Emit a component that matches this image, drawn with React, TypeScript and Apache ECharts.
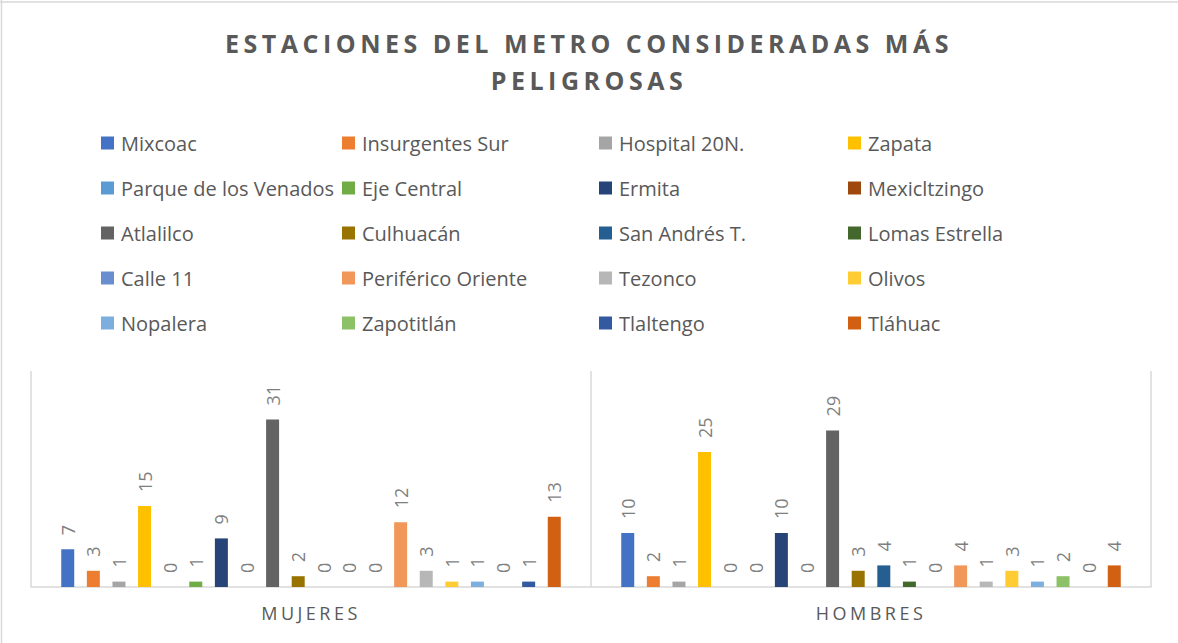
import React, { useEffect, useRef } from "react";
import * as echarts from "echarts";

const titleLines = ["ESTACIONES DEL METRO CONSIDERADAS MÁS", "PELIGROSAS"];
const categories = ["MUJERES", "HOMBRES"];
const stations = [
  "Mixcoac", "Insurgentes Sur", "Hospital 20N.", "Zapata",
  "Parque de los Venados", "Eje Central", "Ermita", "Mexicltzingo",
  "Atlalilco", "Culhuacán", "San Andrés T.", "Lomas Estrella",
  "Calle 11", "Periférico Oriente", "Tezonco", "Olivos",
  "Nopalera", "Zapotitlán", "Tlaltengo", "Tláhuac",
];
const mujeres = [7, 3, 1, 15, 0, 1, 9, 0, 31, 2, 0, 0, 0, 12, 3, 1, 1, 0, 1, 13];
const hombres = [10, 2, 1, 25, 0, 0, 10, 0, 29, 3, 4, 1, 0, 4, 1, 3, 1, 2, 0, 4];
const colors = [
  "#4472C4", "#ED7D31", "#A5A5A5", "#FFC000",
  "#5B9BD5", "#70AD47", "#264478", "#9E480E",
  "#636363", "#997300", "#255E91", "#43682B",
  "#698ED0", "#F1975A", "#B7B7B7", "#FFCD33",
  "#7CAFDD", "#8CC168", "#335AA1", "#D26012",
];

const FONT = "'Open Sans', 'DejaVu Sans', sans-serif";
const legendLefts = [101, 342, 599, 848];

export default function App() {
  const ref = useRef<HTMLDivElement>(null);

  useEffect(() => {
    document.body.style.margin = "0";
    const el = ref.current!;
    const chart = echarts.init(el, undefined, { renderer: "svg" });

    const legends = legendLefts.map((left, col) => ({
      orient: "vertical",
      left,
      top: 132,
      padding: 0,
      itemWidth: 13,
      itemHeight: 13,
      itemGap: 23,
      icon: "rect",
      data: stations.filter((_, i) => i % 4 === col),
      textStyle: { fontFamily: FONT, fontSize: 20, color: "#595959", lineHeight: 22, padding: [0, 0, 0, 2] },
    }));

    const series = stations.map((name, i) => ({
      type: "bar",
      name,
      data: [mujeres[i], hombres[i]],
      itemStyle: { color: colors[i] },
      barGap: "97%",
      barCategoryGap: "10.8%",
      label: {
        show: true,
        position: "top",
        rotate: 90,
        align: "left",
        verticalAlign: "middle",
        distance: 14,
        color: "#7f7f7f",
        fontSize: 18,
        fontFamily: FONT,
      },
    }));

    chart.setOption({
      animation: false,
      backgroundColor: "#ffffff",
      title: {
        text: titleLines.join("\n"),
        left: "center",
        top: 24,
        padding: 0,
        textStyle: {
          fontFamily: FONT,
          fontWeight: "bold",
          fontSize: 25,
          lineHeight: 37,
          color: "#595959",
        },
      },
      legend: legends,
      grid: { left: 31, right: 27, top: 371, bottom: 56 },
      xAxis: {
        type: "category",
        data: categories,
        axisLine: { lineStyle: { color: "#d9d9d9", width: 1.5 } },
        axisTick: { show: false },
        splitLine: { show: true, lineStyle: { color: "#d9d9d9", width: 1.5 } },
        axisLabel: { fontFamily: FONT, fontSize: 18, color: "#595959", margin: 17 },
      },
      yAxis: {
        type: "value",
        min: 0,
        max: 40,
        show: false,
      },
      graphic: [
        { type: "line", shape: { x1: 1.5, y1: 0, x2: 1.5, y2: 643 }, style: { stroke: "#d9d9d9", lineWidth: 1.5 } },
        { type: "line", shape: { x1: 0, y1: 2, x2: 1178, y2: 2 }, style: { stroke: "#d9d9d9", lineWidth: 1.5 } },
      ],
      series,
    });

    const applySpacing = () => {
      el.querySelectorAll("text").forEach((t) => {
        const s = (t.textContent || "").trim();
        if (titleLines.includes(s)) (t as SVGTextElement).style.letterSpacing = "4.5px";
        else if (categories.includes(s)) (t as SVGTextElement).style.letterSpacing = "3.5px";
      });
    };
    applySpacing();
    chart.on("finished", applySpacing);

    return () => {
      chart.dispose();
    };
  }, []);

  return <div ref={ref} style={{ width: 1178, height: 643 }} />;
}
